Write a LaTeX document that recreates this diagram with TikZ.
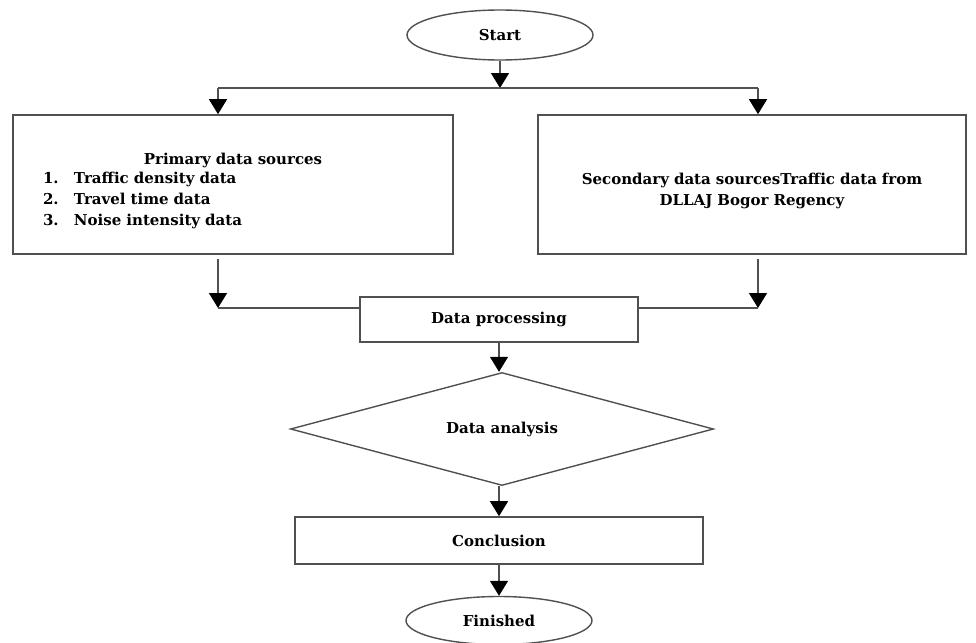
\documentclass[tikz,border=0pt]{standalone}
\usepackage{tikz}
\usepackage{fontspec}
\setmainfont{DejaVu Serif}
\usetikzlibrary{shapes.geometric, arrows.meta, positioning}
\definecolor{flowLine}{RGB}{80, 80, 80}

\begin{document}
\begin{tikzpicture}[
        x=1pt, y=-1pt,
        font=\fontsize{15}{21}\selectfont\bfseries,
        box/.style={rectangle, draw=flowLine, line width=1.6pt, inner sep=0pt, align=center},
        term/.style={ellipse, draw=flowLine, line width=1.4pt, minimum width=186pt, minimum height=50pt, inner sep=0pt},
        decision/.style={diamond, draw=flowLine, line width=1.4pt, shape aspect=3.7, minimum width=423pt, minimum height=113pt, inner sep=0pt},
        arrow/.style={-{Triangle[width=18pt, length=15pt, black]}, line width=1.4pt, flowLine},
        link/.style={line width=1.4pt, flowLine}
    ]
        \useasboundingbox (0,0) rectangle (976,642);

        % Start and split
        \node[term] (start) at (500,35) {Start};
        \coordinate (split) at (500,88);
        \coordinate (lsplit) at (218,88);
        \coordinate (rsplit) at (758,88);

        % Data sources
        \node[box, minimum width=440pt, minimum height=139pt, text width=380pt, align=left] (primary) at (233,184.5)
            {\makebox[380pt]{\rule{0pt}{25pt}Primary data sources}\\[-2pt]
             \makebox[31pt][l]{1.}Traffic density data\\
             \makebox[31pt][l]{2.}Travel time data\\
             \makebox[31pt][l]{3.}Noise intensity data};
        \node[box, minimum width=428pt, minimum height=139pt, text width=410pt] (secondary) at (752,184.5)
            {\rule{0pt}{24pt}Secondary data sourcesTraffic data from\\ DLLAJ Bogor Regency};

        % Processing
        \node[box, minimum width=278pt, minimum height=45pt] (proc) at (499,319.5) {Data processing};
        \coordinate (ljoin) at (218,308);
        \coordinate (rjoin) at (758,308);
        \node[decision, below=29pt of proc, xshift=3pt] (analysis) {Data analysis};
        \node[box, minimum width=408pt, minimum height=47pt, below=30pt of analysis, xshift=-3pt] (concl) {Conclusion};
        \node[term, minimum height=48pt, below=31pt of concl] (fin) {Finished};

        \draw[arrow] (start) -- (split);
        \draw[link] (lsplit) -- (rsplit);
        \draw[arrow] (lsplit) -- (lsplit |- primary.north);
        \draw[arrow] (rsplit) -- (rsplit |- secondary.north);
        \draw[arrow, shorten <=4pt] (lsplit |- primary.south) -- (ljoin);
        \draw[arrow, shorten <=4pt] (rsplit |- secondary.south) -- (rjoin);
        \draw[link] (ljoin) -- (ljoin -| proc.west);
        \draw[link] (rjoin) -- (rjoin -| proc.east);
        \draw[arrow] (proc) -- (proc |- analysis.north);
        \draw[arrow] (analysis.south -| concl) -- (concl);
        \draw[arrow] (concl) -- (fin);
    \end{tikzpicture}
\end{document}
